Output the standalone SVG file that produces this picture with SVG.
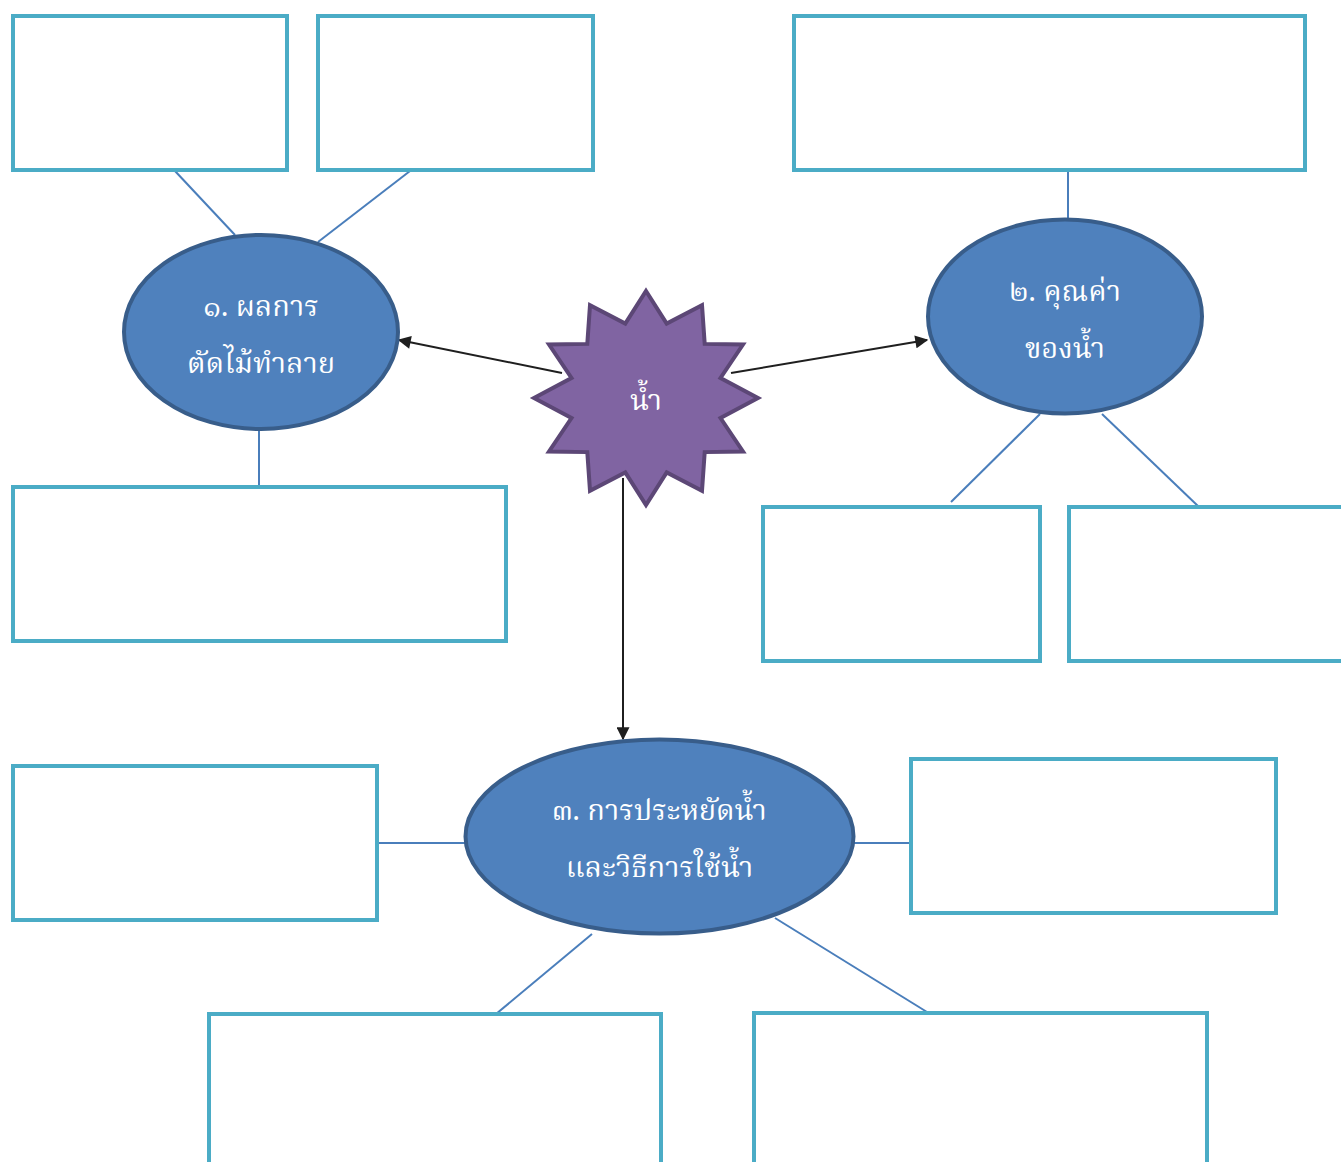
<svg xmlns="http://www.w3.org/2000/svg" width="1341" height="1162" viewBox="0 0 1341 1162">
<defs>
<style>
.box{fill:#ffffff;stroke:#4bacc6;stroke-width:4}
.ell{fill:#4f81bd;stroke:#385d8a;stroke-width:4}
.star{fill:#8064a2;stroke:#5c4776;stroke-width:4}
.link{stroke:#4a7ebb;stroke-width:2;fill:none}
.arrow{stroke:#1f1f1f;stroke-width:2;fill:none;marker-end:url(#ah)}
.lbl{fill:#ffffff;font-family:"Noto Serif Thai","Noto Sans Thai Looped","Loma","Norasi","Garuda","Noto Sans Thai","DejaVu Serif",serif;font-size:29px;text-anchor:middle}
</style>
<marker id="ah" viewBox="0 0 10 10" refX="9" refY="5" markerWidth="15" markerHeight="13" markerUnits="userSpaceOnUse" orient="auto">
<path d="M0,0 L10,5 L0,10 z" fill="#1f1f1f"/>
</marker>
</defs>
<rect width="1341" height="1162" fill="#ffffff"/>
<g id="connectors">
<line class="link" x1="175" y1="171" x2="235" y2="235"/>
<line class="link" x1="410" y1="171" x2="318" y2="242"/>
<line class="link" x1="259" y1="430" x2="259" y2="487"/>
<line class="link" x1="1068" y1="171" x2="1068" y2="219"/>
<line class="link" x1="1040" y1="414" x2="951" y2="502"/>
<line class="link" x1="1102" y1="414" x2="1199" y2="507"/>
<line class="link" x1="377" y1="843" x2="465" y2="843"/>
<line class="link" x1="854" y1="843" x2="911" y2="843"/>
<line class="link" x1="592" y1="934" x2="496" y2="1014"/>
<line class="link" x1="775" y1="918" x2="927" y2="1012"/>
<line class="arrow" x1="562" y1="373" x2="399" y2="340"/>
<line class="arrow" x1="731" y1="373" x2="927" y2="340"/>
<line class="arrow" x1="623" y1="478" x2="623" y2="739"/>
</g>
<g id="box1"><rect class="box" x="13" y="16" width="274" height="154"/></g>
<g id="box2"><rect class="box" x="318" y="16" width="275" height="154"/></g>
<g id="box3"><rect class="box" x="794" y="16" width="511" height="154"/></g>
<g id="box4"><rect class="box" x="13" y="487" width="493" height="154"/></g>
<g id="box5"><rect class="box" x="763" y="507" width="277" height="154"/></g>
<g id="box6"><rect class="box" x="1069" y="507" width="290" height="154"/></g>
<g id="box7"><rect class="box" x="13" y="766" width="364" height="154"/></g>
<g id="box8"><rect class="box" x="911" y="759" width="365" height="154"/></g>
<g id="box9"><rect class="box" x="209" y="1014" width="452" height="170"/></g>
<g id="box10"><rect class="box" x="754" y="1013" width="453" height="170"/></g>
<g id="node1">
<ellipse class="ell" cx="261" cy="332" rx="137" ry="97"/>
<text class="lbl" x="261" y="316">๑. ผลการ</text>
<text class="lbl" x="261" y="373">ตัดไม้ทำลาย</text>
</g>
<g id="node2">
<ellipse class="ell" cx="1065" cy="316.5" rx="137" ry="97"/>
<text class="lbl" x="1065" y="301">๒. คุณค่า</text>
<text class="lbl" x="1065" y="358">ของน้ำ</text>
</g>
<g id="node3">
<ellipse class="ell" cx="659.5" cy="836.5" rx="194" ry="97"/>
<text class="lbl" x="659.5" y="820">๓. การประหยัดน้ำ</text>
<text class="lbl" x="659.5" y="877">และวิธีการใช้น้ำ</text>
</g>
<g id="center">
<polygon class="star" points="646,291 666.7,323.6 702,305.3 704.7,343.9 743,344.5 720.5,378.0 758,398 720.5,418.0 743,451.5 704.7,452.1 702,490.7 666.7,472.4 646,505 625.3,472.4 590,490.7 587.3,452.1 549,451.5 571.5,418.0 534,398 571.5,378.0 549,344.5 587.3,343.9 590,305.3 625.3,323.6"/>
<text class="lbl" x="646" y="410">น้ำ</text>
</g>
</svg>
